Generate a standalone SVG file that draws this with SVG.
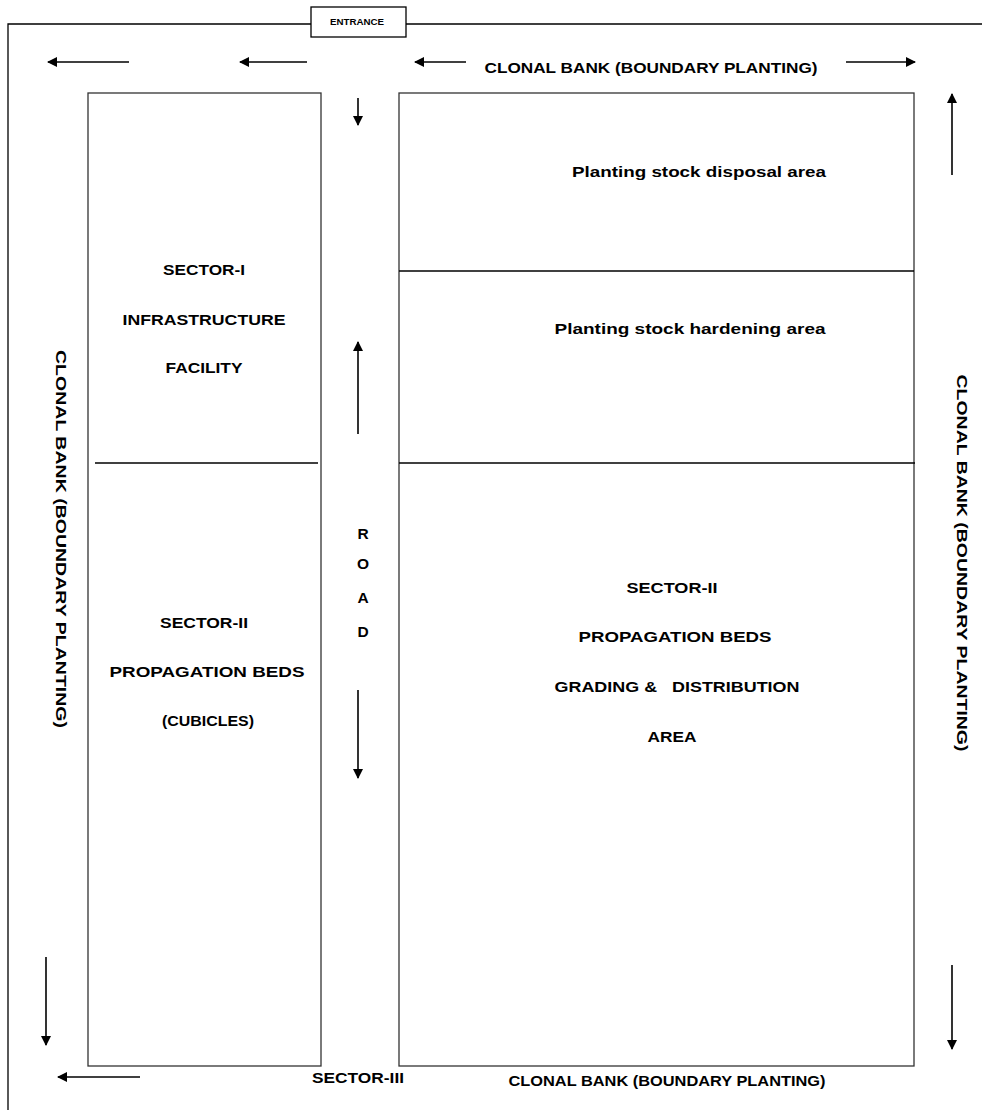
<svg xmlns="http://www.w3.org/2000/svg" width="982" height="1110" viewBox="0 0 982 1110">
<style>
.ln{stroke:#000;stroke-width:1.3;fill:none}
.bx{stroke:#333;stroke-width:1.3;fill:none}
.ar{stroke:#000;stroke-width:1.6;fill:none;marker-end:url(#ah)}
.t{font-family:"Liberation Sans",Arial,sans-serif;font-weight:bold;font-size:15.5px;fill:#000;text-anchor:middle}
.s{font-size:9px}
</style>
<defs>
<marker id="ah" viewBox="0 0 10 10" refX="9" refY="5" markerWidth="11" markerHeight="10" markerUnits="userSpaceOnUse" orient="auto">
<path d="M0,0 L10,5 L0,10 z" fill="#000"/>
</marker>
</defs>
<rect width="982" height="1110" fill="#fff"/>
<g id="boundary">
<path class="ln" d="M8,1110 V24 H311 M406,24 H982"/>
</g>
<g id="entrance">
<rect class="ln" x="311" y="7" width="95" height="30"/>
<text class="t s" x="357" y="25" textLength="54" lengthAdjust="spacingAndGlyphs">ENTRANCE</text>
</g>
<g id="left-block">
<rect class="bx" x="88" y="93" width="233" height="973"/>
<line class="ln" x1="95" y1="463" x2="318" y2="463"/>
</g>
<g id="sector-1">
<text class="t" x="204" y="275" textLength="82" lengthAdjust="spacingAndGlyphs">SECTOR-I</text>
<text class="t" x="204" y="325" textLength="163" lengthAdjust="spacingAndGlyphs">INFRASTRUCTURE</text>
<text class="t" x="204" y="373" textLength="77" lengthAdjust="spacingAndGlyphs">FACILITY</text>
</g>
<g id="sector-2-left">
<text class="t" x="204" y="628" textLength="88" lengthAdjust="spacingAndGlyphs">SECTOR-II</text>
<text class="t" x="207" y="677" textLength="195" lengthAdjust="spacingAndGlyphs">PROPAGATION BEDS</text>
<text class="t" x="208" y="726" textLength="92" lengthAdjust="spacingAndGlyphs">(CUBICLES)</text>
</g>
<g id="right-block">
<rect class="bx" x="399" y="93" width="515" height="973"/>
<line class="ln" x1="399" y1="271" x2="914" y2="271"/>
<line class="ln" x1="399" y1="463" x2="915" y2="463"/>
</g>
<g id="disposal">
<text class="t" x="699" y="177" textLength="254" lengthAdjust="spacingAndGlyphs">Planting stock disposal area</text>
</g>
<g id="hardening">
<text class="t" x="690" y="334" textLength="271" lengthAdjust="spacingAndGlyphs">Planting stock hardening area</text>
</g>
<g id="sector-2-right">
<text class="t" x="672" y="593" textLength="91" lengthAdjust="spacingAndGlyphs">SECTOR-II</text>
<text class="t" x="675" y="642" textLength="193" lengthAdjust="spacingAndGlyphs">PROPAGATION BEDS</text>
<text class="t" x="677" y="692" xml:space="preserve" textLength="245" lengthAdjust="spacingAndGlyphs">GRADING &amp;   DISTRIBUTION</text>
<text class="t" x="672" y="742" textLength="49" lengthAdjust="spacingAndGlyphs">AREA</text>
</g>
<g id="road">
<text class="t" x="363" y="539">R</text>
<text class="t" x="363" y="569">O</text>
<text class="t" x="363" y="603">A</text>
<text class="t" x="363" y="637">D</text>
</g>
<g id="labels">
<text class="t" x="651" y="73" textLength="333" lengthAdjust="spacingAndGlyphs">CLONAL BANK (BOUNDARY PLANTING)</text>
<text class="t" x="358" y="1083" textLength="92" lengthAdjust="spacingAndGlyphs">SECTOR-III</text>
<text class="t" x="667" y="1086" textLength="317" lengthAdjust="spacingAndGlyphs">CLONAL BANK (BOUNDARY PLANTING)</text>
<text class="t" transform="translate(56,539) rotate(90)" textLength="378" lengthAdjust="spacingAndGlyphs">CLONAL BANK (BOUNDARY PLANTING)</text>
<text class="t" transform="translate(957,563) rotate(90)" textLength="377" lengthAdjust="spacingAndGlyphs">CLONAL BANK (BOUNDARY PLANTING)</text>
</g>
<g id="connectors">
<line class="ar" x1="129" y1="62" x2="48" y2="62"/>
<line class="ar" x1="307" y1="62" x2="240" y2="62"/>
<line class="ar" x1="466" y1="62" x2="415" y2="62"/>
<line class="ar" x1="846" y1="62" x2="915" y2="62"/>
<line class="ar" x1="358" y1="98" x2="358" y2="125"/>
<line class="ar" x1="952" y1="175" x2="952" y2="94"/>
<line class="ar" x1="358" y1="434" x2="358" y2="342"/>
<line class="ar" x1="358" y1="690" x2="358" y2="778"/>
<line class="ar" x1="46" y1="957" x2="46" y2="1045"/>
<line class="ar" x1="952" y1="965" x2="952" y2="1049"/>
<line class="ar" x1="140" y1="1077" x2="58" y2="1077"/>
</g>
</svg>
